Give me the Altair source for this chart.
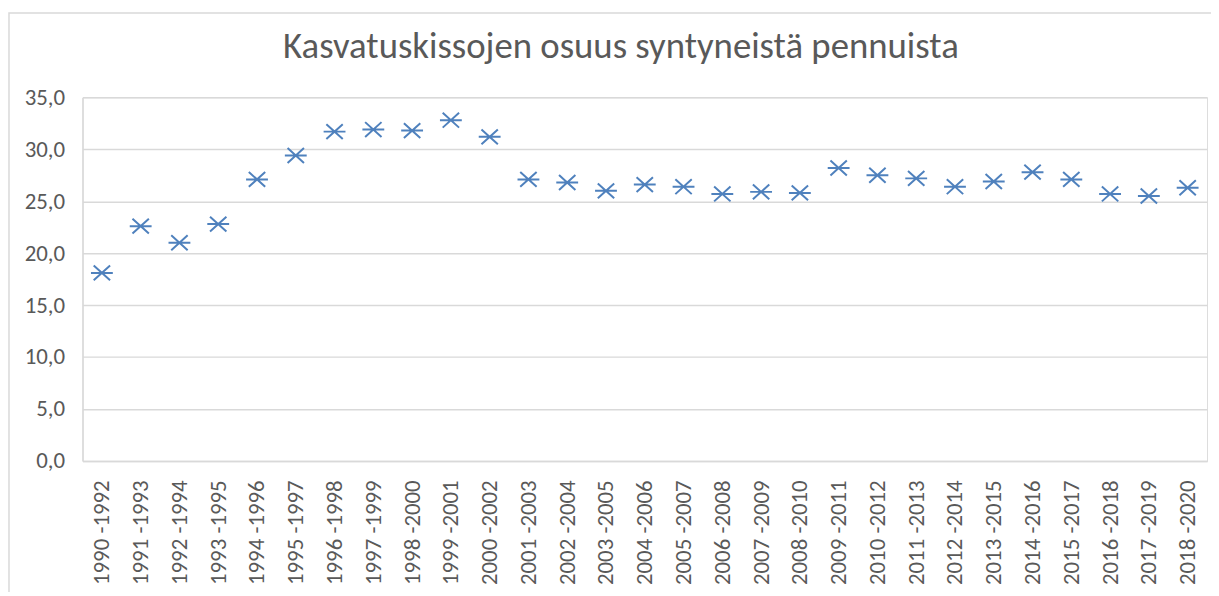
import altair as alt
import pandas as pd

categories = [
    "1990 -1992", "1991 -1993", "1992 -1994", "1993 -1995", "1994 -1996",
    "1995 -1997", "1996 -1998", "1997 -1999", "1998 -2000", "1999 -2001",
    "2000 -2002", "2001 -2003", "2002 -2004", "2003 -2005", "2004 -2006",
    "2005 -2007", "2006 -2008", "2007 -2009", "2008 -2010", "2009 -2011",
    "2010 -2012", "2011 -2013", "2012 -2014", "2013 -2015", "2014 -2016",
    "2015 -2017", "2016 -2018", "2017 -2019", "2018 -2020",
]
values = [
    18.1, 22.6, 21.0, 22.8, 27.1,
    29.4, 31.7, 31.9, 31.8, 32.8,
    31.2, 27.1, 26.8, 26.0, 26.6,
    26.4, 25.7, 25.9, 25.8, 28.2,
    27.5, 27.2, 26.4, 26.9, 27.8,
    27.1, 25.7, 25.5, 26.3,
]
y_ticks = [0, 5, 10, 15, 20, 25, 30, 35]

title_text = "Kasvatuskissojen osuus syntyneistä pennuista"

df = pd.DataFrame({"jakso": categories, "osuus": values})

FONT = "Carlito, Lato, Liberation Sans, sans-serif"
GREY = "#595959"
LINE = "#d9d9d9"

star = "M-0.75,-0.68L0.75,0.68M-0.75,0.68L0.75,-0.68M-1,0L1,0"

points = alt.Chart(df).mark_point(
    shape=star, size=484, filled=False, strokeWidth=2, color="#4f81bd", opacity=1
).encode(
    x=alt.X("jakso:O", sort=categories, title=None,
            scale=alt.Scale(type="point", padding=0.5),
            axis=alt.Axis(labelAngle=-90, ticks=False, tickSize=0, labelPadding=19,
                          domainColor=LINE, domainWidth=1.5, grid=False,
                          labelFont=FONT, labelFontSize=23, labelColor=GREY,
                          labelLimit=300)),
    y=alt.Y("osuus:Q", title=None,
            scale=alt.Scale(domain=[0, 35], nice=False, zero=True),
            axis=alt.Axis(values=y_ticks, ticks=False, tickSize=0, labelPadding=18,
                          labelExpr="replace(format(datum.value, '.1f'), '.', ',')",
                          domainColor=LINE, domainWidth=1.5,
                          gridColor=LINE, gridWidth=1.5,
                          labelFont=FONT, labelFontSize=23, labelColor=GREY)),
)

border = alt.Chart(pd.DataFrame({"b": [0]})).mark_rect(
    fillOpacity=0, stroke=LINE, strokeWidth=1.5
).encode(
    x=alt.value(-74), x2=alt.value(1300), y=alt.value(-85), y2=alt.value(700)
)

chart = alt.layer(border, points).properties(
    width=1132,
    height=366,
    padding={"left": 75, "top": 88, "right": 4, "bottom": 130},
    autosize=alt.AutoSizeParams(type="none"),
    title=alt.TitleParams(
        title_text, font=FONT, fontSize=37, fontWeight="normal", color=GREY,
        anchor="middle", frame="group", baseline="alphabetic", offset=-83, dx=-24
    ),
).configure_view(stroke=None).configure(background="white")

chart.save("out.html", embed_options={"renderer": "svg", "actions": False})
